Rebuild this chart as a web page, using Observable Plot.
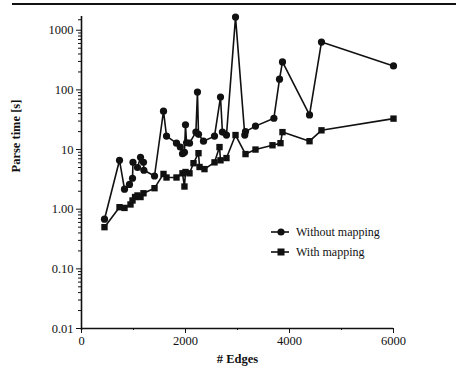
<!DOCTYPE html>
<html>
<head>
<meta charset="utf-8">
<script src="https://cdn.jsdelivr.net/npm/d3@7"></script>
<script src="https://cdn.jsdelivr.net/npm/@observablehq/plot@0.6"></script>
<style>
  body { margin: 0; background: #fff; }
  #wrap { position: relative; width: 456px; height: 384px; overflow: hidden; font-family: "Liberation Serif", "Times New Roman", serif; }
  #topline { position: absolute; left: 12px; right: 0; top: 3px; height: 0; border-top: 2.5px solid #111; }
  #legend { position: absolute; left: 270px; top: 222px; font-size: 12px; color: #111; }
  #legend .row { display: flex; align-items: center; height: 20px; }
  #legend svg { margin-right: 6px; }
</style>
</head>
<body>
<div id="wrap">
  <div id="topline"></div>
  <div id="chart"></div>
  <div id="legend"></div>
</div>
<script>
// ---- data ----
const seriesNames = ["Without mapping", "With mapping"];

const withoutEdges = [442, 731, 827, 923, 981, 990, 1077, 1135, 1192, 1200, 1404, 1577, 1635, 1827, 1900, 1942, 1980, 2000, 2020, 2077, 2200, 2230, 2250, 2346, 2558, 2673, 2710, 2788, 2962, 3140, 3154, 3346, 3700, 3808, 3865, 4385, 4615, 6000];
const withoutTime  = [0.68, 6.6, 2.17, 2.6, 3.3, 6.1, 5.0, 7.4, 6.1, 4.5, 3.6, 44, 16.8, 12.8, 11, 8.5, 9, 26, 13, 12.8, 19.6, 92, 18, 13.8, 16.8, 76, 19.6, 17.5, 1660, 17.5, 20, 24.7, 33.5, 151, 294, 38, 633, 252];

const withEdges = [442, 731, 827, 942, 981, 1030, 1077, 1135, 1192, 1404, 1577, 1635, 1827, 1942, 1980, 2000, 2077, 2154, 2250, 2270, 2365, 2558, 2654, 2673, 2788, 2962, 3154, 3346, 3673, 3827, 3865, 4385, 4615, 6000];
const withTime  = [0.5, 1.08, 1.05, 1.2, 1.4, 1.6, 1.7, 1.6, 1.85, 2.25, 3.9, 3.4, 3.4, 4.0, 2.4, 4.2, 4.0, 5.9, 8.7, 5.1, 4.7, 6.1, 11, 6.6, 7.2, 17.5, 8.4, 10, 11.8, 12.8, 19.6, 13.8, 21, 33];

const yMajorTicks = [0.01, 0.1, 1, 10, 100, 1000];
const yTickLabels = ["0.01", "0.10", "1.00", "10", "100", "1000"];
const xMajorTicks = [0, 2000, 4000, 6000];
const xMinorTicks = [1000, 3000, 5000];
const xLabel = "# Edges";
const yLabel = "Parse time [s]";

// ---- build tables ----
const without = withoutEdges.map((e, i) => ({edges: e, time: withoutTime[i]}));
const withMap = withEdges.map((e, i) => ({edges: e, time: withTime[i]}));
const yMinorTicks = [];
for (const d of yMajorTicks.slice(0, -1)) for (let k = 2; k <= 9; k++) yMinorTicks.push(d * k);
yMinorTicks.push(1000 * 1.5);
const yLabelMap = new Map(yMajorTicks.map((t, i) => [t, yTickLabels[i]]));

const ink = "#111";
const chart = Plot.plot({
  width: 456,
  height: 384,
  marginLeft: 81,
  marginRight: 63,
  marginTop: 16,
  marginBottom: 56,
  style: {fontFamily: '"Liberation Serif", "Times New Roman", serif', fontSize: "12px", color: ink, background: "white"},
  x: {domain: [0, 6000], label: null},
  y: {type: "log", domain: [0.01, 1700], label: null},
  marks: [
    Plot.ruleX([0], {stroke: ink, strokeWidth: 1.6, y1: 0.0093, y2: 1700}),
    Plot.ruleY([0.01], {stroke: ink, strokeWidth: 1.6}),
    Plot.axisY({ticks: yMinorTicks, tickSize: 3, text: null, label: null, stroke: ink}),
    Plot.axisY({ticks: yMajorTicks, tickSize: 5, tickPadding: 3, tickFormat: d => yLabelMap.get(d), label: null, stroke: ink, fill: ink, fontSize: 12.5}),
    Plot.axisX({ticks: xMinorTicks, tickSize: 2, text: null, label: null, stroke: ink}),
    Plot.axisX({ticks: xMajorTicks, tickSize: 5, tickPadding: 3, tickFormat: d => String(d), label: null, stroke: ink, fill: ink, fontSize: 12.5}),
    Plot.text([xLabel], {frameAnchor: "bottom", dy: 34, fontWeight: "bold", fontSize: 12.5, fill: ink}),
    Plot.text([yLabel], {frameAnchor: "left", dx: -66, rotate: -90, fontWeight: "bold", fontSize: 12.5, fill: ink}),
    Plot.line(without, {x: "edges", y: "time", stroke: ink, strokeWidth: 1.6}),
    Plot.line(withMap, {x: "edges", y: "time", stroke: ink, strokeWidth: 1.6}),
    Plot.dot(without, {x: "edges", y: "time", symbol: "circle", r: 3.6, fill: ink, stroke: null}),
    Plot.dot(withMap, {x: "edges", y: "time", symbol: "square", r: 3.6, fill: ink, stroke: null})
  ]
});
document.getElementById("chart").appendChild(chart);

// ---- legend ----
const legend = document.getElementById("legend");
seriesNames.forEach((name, i) => {
  const row = document.createElement("div");
  row.className = "row";
  const glyph = i === 0
    ? '<circle cx="11" cy="6" r="3.6" fill="#111"/>'
    : '<rect x="7.5" y="2.5" width="7" height="7" fill="#111"/>';
  row.innerHTML = `<svg width="20" height="12"><line x1="1" x2="19" y1="6" y2="6" stroke="#111" stroke-width="1.6"/>${glyph}</svg><span>${name}</span>`;
  legend.appendChild(row);
});
</script>
</body>
</html>
